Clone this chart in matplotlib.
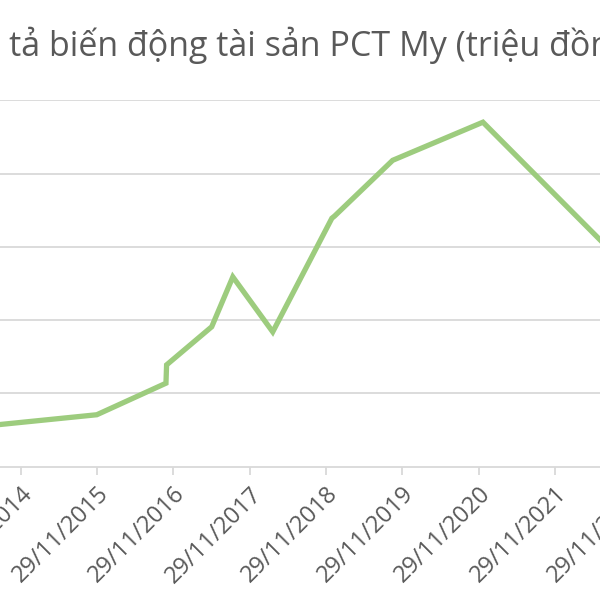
import datetime as dt
import matplotlib
matplotlib.use("Agg")
import matplotlib.pyplot as plt
import matplotlib.dates as mdates

# dữ liệu (đơn vị tuỳ ý, trục y bị cắt mất nhãn)
ngay = ["2013-11-29", "2015-11-29", "2016-10-25", "2016-10-28", "2017-06-01",
        "2017-09-10", "2018-03-20", "2018-12-28", "2019-01-10", "2019-10-15",
        "2020-12-20", "2022-11-29"]
gia_tri = [0.50, 0.71, 1.14, 1.39, 1.91, 2.59, 1.84, 3.39, 3.42, 4.18, 4.70, 2.67]
nam_tick = [2014, 2015, 2016, 2017, 2018, 2019, 2020, 2021, 2022]
tieu_de = "Mô tả biến động tài sản PCT My (triệu đồng)"

plt.rcParams['font.family'] = ['Open Sans', 'DejaVu Sans']

x = [dt.datetime.strptime(d, "%Y-%m-%d") for d in ngay]
ticks = [dt.datetime(y, 11, 29) for y in nam_tick]

fig = plt.figure(figsize=(6, 6), dpi=100)
# trục rộng hơn khung hình để giống ảnh bị cắt
ax = fig.add_axes([-0.1667, 0.222, 1.3334, 0.611])

ax.plot(x, gia_tri, color="#9DCC7E", lw=3.8, solid_joinstyle="miter")

ax.set_xlim(dt.datetime(2013, 5, 1), dt.datetime(2023, 10, 25))
ax.set_ylim(0, 5)
ax.set_yticks([1, 2, 3, 4, 5])
ax.grid(axis="y", color="#D9D9D9", lw=1.3)
ax.set_axisbelow(True)
ax.tick_params(axis="y", length=0, labelleft=False)

ax.set_xticks(ticks)
ax.xaxis.set_major_formatter(mdates.DateFormatter("%d/%m/%Y"))
ax.tick_params(axis="x", length=6, width=1.3, color="#D9D9D9",
               labelsize=17, labelcolor="#595959", pad=5)
for lb in ax.get_xticklabels():
    lb.set_rotation(45)
    lb.set_ha("right")
    lb.set_rotation_mode("anchor")

for s in ["top", "left", "right"]:
    ax.spines[s].set_visible(False)
ax.spines["bottom"].set_color("#D9D9D9")
ax.spines["bottom"].set_linewidth(1.3)

fig.text(0.49, 0.925, tieu_de, ha="center", va="center", fontsize=24.5,
         color="#595959")

fig.savefig("out.png", dpi=100)
